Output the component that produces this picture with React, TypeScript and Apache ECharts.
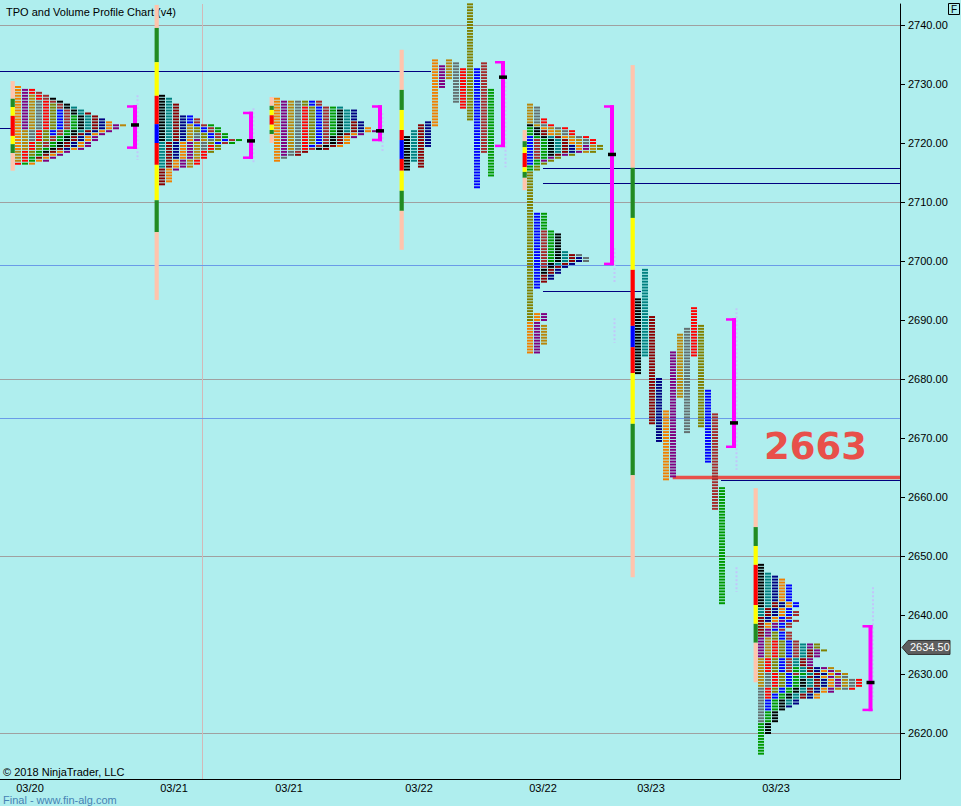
import React, { useEffect, useRef } from 'react';
import * as echarts from 'echarts';

const W = 961;
const H = 806;
const BG = '#AFEEEE';
const FONT = 'Liberation Sans, Arial, sans-serif';

// TPO period colours (cycled in time order)
const PALETTE = ['#000000', '#008080', '#8B0000', '#000080', '#F08000', '#800080', '#B8860B', '#647070', '#FF0000', '#808000', '#0000FF', '#A52A2A', '#009900'];
// value-area strip colours, top to bottom
const STRIP_COLORS = ['#FFC4AC', '#228B22', '#FFFF00', '#FF0000', '#0000FF', '#FF0000', '#FFFF00', '#228B22', '#FFC4AC'];

const SESSION_LABELS = ['03/20', '03/21', '03/21', '03/22', '03/22', '03/23', '03/23'];
const LABEL_SLOTS = [4.286, 24.857, 41.286, 59.857, 77.571, 93.0, 110.857];
const PRICE_TICKS = [2620, 2630, 2640, 2650, 2660, 2670, 2680, 2690, 2700, 2710, 2720, 2730, 2740];
const GRID_PRICES = [2740, 2710, 2680, 2650, 2620];
const SEPARATOR_SLOTS = [28.857];

const LAST_PRICE = 2634.5;
const KEY_LEVEL = 2663;

// profile layout (time slots, one slot = one TPO column)
const PROFILE_START = [2.143, 22.714, 39.143, 57.714, 75.286, 90.714, 108.286];
const PROFILE_SPLIT = [false, false, false, true, false, true, false];
const PROFILE_COLOR_START = [4, 0, 4, 0, 10, 0, 0];

// TPO periods: low / high of each period, in time order
const P1_LOWS = [2719, 2722.5, 2717, 2720.5, 2716.5, 2718, 2721.5, 2719.5, 2716.5, 2718.5, 2722, 2717.5, 2719, 2716.5, 2717, 2723];
const P1_HIGHS = [2729.5, 2729, 2728, 2727, 2729, 2726.5, 2725.5, 2728.5, 2724.5, 2727.5, 2726, 2725, 2724, 2723.5, 2723, 2723];

const P2_LOWS = [2720.5, 2716, 2713, 2717.5, 2713.5, 2715.5, 2716, 2719, 2716.5, 2718.5, 2720, 2720, 2720];
const P2_HIGHS = [2728, 2727.5, 2726.5, 2724.5, 2720.5, 2720.5, 2723, 2721.5, 2719.5, 2722.5, 2724.5, 2724, 2723];

const P3_LOWS = [2717, 2718, 2719, 2717.5, 2719, 2720, 2719.5, 2718.5, 2721.5, 2719, 2722, 2718, 2722, 2719.5, 2721];
const P3_HIGHS = [2727.5, 2727, 2727, 2727, 2726, 2727, 2727, 2727, 2726, 2725.5, 2726, 2723.5, 2725.5, 2722.5, 2722];

const P4_LOWS = [2715.5, 2717, 2716, 2719.5, 2723, 2729.5, 2731, 2727, 2726, 2724, 2712.5, 2718.5, 2714.5];
const P4_HIGHS = [2721, 2722, 2723, 2723.5, 2734, 2733, 2734, 2733.5, 2732.5, 2743.5, 2732.5, 2733.5, 2729];

const P5_LOWS = [2716.5, 2717.5, 2715.5, 2718, 2718.5, 2718, 2718.5, 2719, 2717, 2718.5, 2720, 2720, 2690, 2695.5, 2699, 2700, 2698, 2699.5, 2696.5, 2697, 2684.5, 2684.5, 2686, 2700];
const P5_HIGHS = [2721, 2720.5, 2722.5, 2723, 2721, 2722, 2719.5, 2722.5, 2719.5, 2726.5, 2726, 2724, 2719.5, 2708, 2705, 2708, 2704.5, 2701.5, 2701, 2700.5, 2691, 2691, 2689, 2701];

const P6_LOWS = [2681, 2684, 2672.5, 2669.5, 2663, 2663.5, 2677, 2671, 2684, 2672, 2666, 2658, 2642];
const P6_HIGHS = [2693.5, 2698.5, 2690.5, 2680, 2674.5, 2684.5, 2687.5, 2688.5, 2692, 2689, 2678, 2674, 2661.5];

const P7_LOWS = [2641.5, 2640, 2636.5, 2639, 2638, 2633, 2628, 2622, 2626, 2627, 2624, 2630, 2616.5, 2620, 2625, 2626, 2624.5, 2626, 2627, 2627.5, 2627.5, 2627.5, 2634];
const P7_HIGHS = [2648.5, 2647, 2642, 2646.5, 2646, 2639, 2636, 2630, 2635.5, 2637, 2645, 2640.5, 2631, 2629, 2635, 2634, 2631, 2630.5, 2635, 2631, 2629.5, 2629, 2635];

// strip boundaries, top to bottom (10 prices -> 9 coloured segments)
const STRIP_P1 = [2730.5, 2727.5, 2726.1, 2724.6, 2721.2, 2721.2, 2721.2, 2719.8, 2718.3, 2715.3];
const STRIP_P2 = [2743.4, 2739.5, 2733.7, 2728.0, 2723.2, 2720.0, 2716.3, 2710.3, 2704.9, 2693.4];
const STRIP_P3 = [2727.8, 2726.3, 2725.6, 2724.7, 2723.1, 2723.1, 2723.1, 2722.2, 2721.5, 2720.0];
const STRIP_P4 = [2735.8, 2729.0, 2725.6, 2722.2, 2720.5, 2717.3, 2715.3, 2711.9, 2708.5, 2701.9];
const STRIP_P5 = [2722.2, 2720.3, 2719.3, 2718.3, 2715.9, 2715.9, 2715.9, 2715.1, 2714.1, 2712.0];
const STRIP_P6 = [2733.2, 2715.8, 2707.3, 2698.5, 2689.0, 2685.4, 2681.0, 2672.4, 2663.7, 2646.4];
const STRIP_P7 = [2661.5, 2654.9, 2651.7, 2648.5, 2641.7, 2641.7, 2641.7, 2638.5, 2635.3, 2628.6];

// value area brackets
const VA_HIGH = [2726.4, 2725.3, 2726.4, 2733.9, 2726.4, 2690.3, 2638.3];
const VA_LOW = [2719.0, 2717.3, 2720.3, 2719.3, 2699.3, 2668.3, 2623.7];
const POC = [2723.1, 2720.4, 2722.1, 2731.2, 2718.1, 2672.6, 2628.6];
const BRACKET_SLOT = [19.286, 35.857, 54.286, 71.857, 87.429, 104.857, 124.357];

// dotted volume traces next to brackets
const VOL_PROFILE = [0, 1, 2, 3, 4, 4, 5, 5, 6];
const VOL_TOP = [2728.1, 2725.9, 2725.1, 2732.4, 2702.2, 2690.3, 2692.0, 2648.1, 2644.7];
const VOL_BOTTOM = [2717.1, 2716.6, 2718.5, 2715.9, 2696.3, 2686.1, 2664.6, 2643.9, 2625.6];

// horizontal levels
const H_LINE_X1 = [0, 0, 77.571, 77.571, 77.571, 0, 0, 96.1, 103.0];
const H_LINE_X2 = [61.571, 1.571, 128.571, 128.571, 91.571, 128.571, 128.571, 128.571, 128.571];
const H_LINE_PRICE = [2732.2, 2722.5, 2715.7, 2713.3, 2694.9, 2699.3, 2673.4, 2663.3, 2662.8];
const H_LINE_STYLE = [0, 0, 0, 0, 0, 1, 1, 2, 0];
const H_STYLES = [
  { stroke: '#000080', lineWidth: 1 },
  { stroke: '#6A9BE8', lineWidth: 1 },
  { stroke: '#E8504A', lineWidth: 3.5 },
];

const PROFILES = [
  { lows: P1_LOWS, highs: P1_HIGHS, strip: STRIP_P1 },
  { lows: P2_LOWS, highs: P2_HIGHS, strip: STRIP_P2 },
  { lows: P3_LOWS, highs: P3_HIGHS, strip: STRIP_P3 },
  { lows: P4_LOWS, highs: P4_HIGHS, strip: STRIP_P4 },
  { lows: P5_LOWS, highs: P5_HIGHS, strip: STRIP_P5 },
  { lows: P6_LOWS, highs: P6_HIGHS, strip: STRIP_P6 },
  { lows: P7_LOWS, highs: P7_HIGHS, strip: STRIP_P7 },
];

const GRID = { left: 0, right: 61, top: 4, bottom: 27 };
const PX_PER_SLOT = 7;
const X_MAX = (W - GRID.left - GRID.right) / PX_PER_SLOT;
const PX_PER_POINT = 5.9;
const Y_MAX = 2740 + 21 / PX_PER_POINT;
const Y_MIN = 2620 - 46 / PX_PER_POINT;
const BAR_SLOT_W = 6 / 7;

function buildTpos(): number[][] {
  const out: number[][] = [];
  PROFILES.forEach((pr, i) => {
    const start = PROFILE_START[i];
    const counts = new Map<number, number>();
    pr.lows.forEach((lo, k) => {
      const hi = pr.highs[k];
      const color = (PROFILE_COLOR_START[i] + k) % PALETTE.length;
      for (let r = Math.round(lo * 2); r <= Math.round(hi * 2); r++) {
        let col: number;
        if (PROFILE_SPLIT[i]) col = k;
        else {
          col = counts.get(r) || 0;
          counts.set(r, col + 1);
        }
        out.push([start + col, r / 2, color]);
      }
    });
  });
  return out;
}

function buildStrips(): number[][] {
  const out: number[][] = [];
  PROFILES.forEach((pr, i) => {
    for (let j = 0; j < 9; j++) {
      if (pr.strip[j] - pr.strip[j + 1] > 0.01) out.push([PROFILE_START[i], pr.strip[j], pr.strip[j + 1], j]);
    }
  });
  return out;
}

export default function App() {
  const ref = useRef<HTMLDivElement>(null);
  useEffect(() => {
    document.body.style.margin = '0';
    document.body.style.background = BG;
    if (!ref.current) return;
    const chart = echarts.init(ref.current, undefined, { renderer: 'svg' });

    const tpos = buildTpos();
    const strips = buildStrips();
    const brackets = VA_HIGH.map((v, i) => [BRACKET_SLOT[i], v, VA_LOW[i], POC[i]]);
    const vols = VOL_PROFILE.map((p, i) => [BRACKET_SLOT[p], VOL_TOP[i], VOL_BOTTOM[i]]);
    const hlines = H_LINE_PRICE.map((p, i) => [H_LINE_X1[i], H_LINE_X2[i], p, H_LINE_STYLE[i]]);

    const option: any = {
      animation: false,
      backgroundColor: BG,
      textStyle: { fontFamily: FONT },
      grid: { ...GRID, containLabel: false },
      xAxis: {
        type: 'value',
        min: 0,
        max: X_MAX,
        axisLine: { show: true, onZero: false, lineStyle: { color: '#000', width: 1 } },
        axisTick: { show: false },
        splitLine: { show: false },
        axisLabel: {
          customValues: LABEL_SLOTS,
          margin: 4,
          color: '#000',
          fontSize: 11,
          lineHeight: 10,
          fontFamily: FONT,
          formatter: (v: number) => {
            let best = 0;
            LABEL_SLOTS.forEach((s, i) => {
              if (Math.abs(s - v) < Math.abs(LABEL_SLOTS[best] - v)) best = i;
            });
            return SESSION_LABELS[best];
          },
        },
      },
      yAxis: {
        type: 'value',
        position: 'right',
        min: Y_MIN,
        max: Y_MAX,
        axisLine: { show: true, onZero: false, lineStyle: { color: '#000', width: 1 } },
        axisTick: { show: false },
        splitLine: { show: false },
        axisLabel: {
          customValues: PRICE_TICKS,
          margin: 8,
          color: '#000',
          fontSize: 11,
          fontFamily: FONT,
          formatter: (v: number) => v.toFixed(2),
        },
      },
      series: [
        {
          type: 'custom',
          name: 'grid',
          data: GRID_PRICES.map((p) => [0, p]),
          encode: { x: 0, y: 1 },
          renderItem: (params: any, api: any) => {
            const cs = params.coordSys;
            const y = Math.round(api.coord([0, api.value(1)])[1]) + 0.5;
            return { type: 'line', shape: { x1: cs.x, y1: y, x2: cs.x + cs.width, y2: y }, style: { stroke: '#A0A0A0', lineWidth: 1 } };
          },
        },
        {
          type: 'custom',
          name: 'ticks',
          clip: false,
          data: PRICE_TICKS.map((p) => [0, p]),
          encode: { x: 0, y: 1 },
          renderItem: (params: any, api: any) => {
            const cs = params.coordSys;
            const y = Math.round(api.coord([0, api.value(1)])[1]) + 0.5;
            const x = cs.x + cs.width;
            return { type: 'line', shape: { x1: x, y1: y, x2: x + 5, y2: y }, style: { stroke: '#000', lineWidth: 1 } };
          },
        },
        {
          type: 'custom',
          name: 'separator',
          data: SEPARATOR_SLOTS.map((s) => [s, Y_MAX]),
          encode: { x: 0, y: 1 },
          renderItem: (params: any, api: any) => {
            const cs = params.coordSys;
            const x = Math.round(api.coord([api.value(0), Y_MAX])[0]) + 0.5;
            return { type: 'line', shape: { x1: x, y1: cs.y, x2: x, y2: cs.y + cs.height }, style: { stroke: '#D2B8B8', lineWidth: 1 } };
          },
        },
        {
          type: 'custom',
          name: 'levels',
          data: hlines,
          encode: { x: [0, 1], y: 2 },
          renderItem: (params: any, api: any) => {
            const a = api.coord([api.value(0), api.value(2)]);
            const b = api.coord([api.value(1), api.value(2)]);
            const st = H_STYLES[api.value(3)];
            const y = st.lineWidth === 1 ? Math.round(a[1]) + 0.5 : a[1];
            return { type: 'line', shape: { x1: a[0], y1: y, x2: b[0], y2: y }, style: { stroke: st.stroke, lineWidth: st.lineWidth } };
          },
        },
        {
          type: 'custom',
          name: 'volume',
          data: vols,
          encode: { x: 0, y: [1, 2] },
          renderItem: (params: any, api: any) => {
            const a = api.coord([api.value(0), api.value(1)]);
            const b = api.coord([api.value(0), api.value(2)]);
            const x = a[0] + 2.5;
            return { type: 'line', shape: { x1: x, y1: a[1], x2: x, y2: b[1] }, style: { stroke: '#C2C6FA', lineWidth: 2, lineDash: [2, 2] } };
          },
        },
        {
          type: 'custom',
          name: 'strips',
          data: strips,
          encode: { x: 0, y: [1, 2] },
          renderItem: (params: any, api: any) => {
            const a = api.coord([api.value(0) - 0.63, api.value(1)]);
            const b = api.coord([api.value(0) - 0.03, api.value(2)]);
            return { type: 'rect', shape: { x: a[0], y: a[1], width: b[0] - a[0], height: b[1] - a[1] }, style: { fill: STRIP_COLORS[api.value(3)] } };
          },
        },
        {
          type: 'custom',
          name: 'tpo',
          data: tpos,
          encode: { x: 0, y: 1 },
          renderItem: (params: any, api: any) => {
            const p = api.coord([api.value(0), api.value(1)]);
            const w = api.size([BAR_SLOT_W, 0])[0];
            return { type: 'rect', shape: { x: p[0], y: p[1] - 1, width: w, height: 2 }, style: { fill: PALETTE[api.value(2)] } };
          },
        },
        {
          type: 'custom',
          name: 'brackets',
          data: brackets,
          encode: { x: 0, y: [1, 2] },
          renderItem: (params: any, api: any) => {
            const t = api.coord([api.value(0), api.value(1)]);
            const x = t[0];
            const yTop = t[1];
            const yBot = api.coord([api.value(0), api.value(2)])[1];
            const yPoc = api.coord([api.value(0), api.value(3)])[1];
            const mag = '#FF00FF';
            return {
              type: 'group',
              children: [
                { type: 'rect', shape: { x: x - 2, y: yTop, width: 4, height: yBot - yTop }, style: { fill: mag } },
                { type: 'rect', shape: { x: x - 8, y: yTop, width: 10, height: 2.5 }, style: { fill: mag } },
                { type: 'rect', shape: { x: x - 8, y: yBot - 2.5, width: 10, height: 2.5 }, style: { fill: mag } },
                { type: 'rect', shape: { x: x - 4, y: yPoc - 1.5, width: 8, height: 3.5 }, style: { fill: '#000' } },
              ],
            };
          },
        },
      ],
    };
    chart.setOption(option);

    const py = chart.convertToPixel({ yAxisIndex: 0 }, LAST_PRICE) as number;
    const ky = chart.convertToPixel({ yAxisIndex: 0 }, KEY_LEVEL) as number;
    chart.setOption({
      graphic: [
        { type: 'text', left: 6, top: 6, style: { text: 'TPO and Volume Profile Chart (v4)', fill: '#000', font: `11px ${FONT}` } },
        { type: 'text', left: 3, top: 766, style: { text: '© 2018 NinjaTrader, LLC', fill: '#000', font: `11px ${FONT}` } },
        { type: 'text', x: 3, y: 799.5, style: { text: 'Final - www.fin-alg.com', fill: '#4682B4', font: `11px ${FONT}`, lineHeight: 10, verticalAlign: 'middle' } },
        { type: 'rect', shape: { x: 948.5, y: 3.5, width: 11, height: 11 }, style: { fill: 'none', stroke: '#000', lineWidth: 1 } },
        { type: 'text', x: 954, y: 9.5, style: { text: 'F', fill: '#000', font: `10px ${FONT}`, align: 'center', verticalAlign: 'middle' } },
        {
          type: 'text',
          x: 764,
          y: ky - 33,
          style: { text: String(KEY_LEVEL), fill: '#E8504A', font: `bold 37px DejaVu Sans, sans-serif`, align: 'left', verticalAlign: 'middle' },
        },
        {
          type: 'polygon',
          shape: { points: [[902, py], [908, py - 7], [950, py - 7], [950, py + 7], [908, py + 7]] },
          style: { fill: '#5E5E5E', stroke: '#333', lineWidth: 1 },
        },
        { type: 'text', x: 910, y: py, style: { text: LAST_PRICE.toFixed(2), fill: '#FFF', font: `11px ${FONT}`, align: 'left', verticalAlign: 'middle' } },
      ],
    });

    return () => chart.dispose();
  }, []);
  return <div ref={ref} style={{ width: W, height: H }} />;
}
